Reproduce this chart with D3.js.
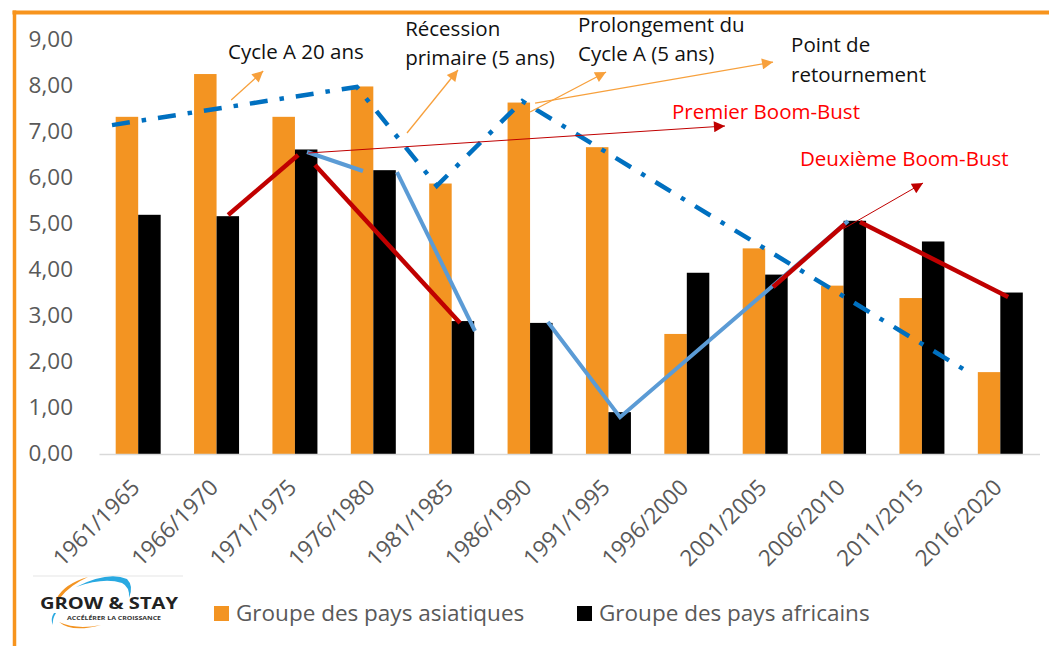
<!DOCTYPE html>
<html>
<head>
<meta charset="utf-8">
<script src="https://cdn.jsdelivr.net/npm/d3@7"></script>
<style>
  html, body { margin: 0; padding: 0; background: #fff; }
  svg { display: block; }
  text { font-family: "Open Sans", "Noto Sans", sans-serif; }
</style>
</head>
<body>
<svg id="chart" width="1049" height="646"></svg>
<script>
// ---------------- data ----------------
const categories = ["1961/1965","1966/1970","1971/1975","1976/1980","1981/1985","1986/1990",
                    "1991/1995","1996/2000","2001/2005","2006/2010","2011/2015","2016/2020"];
const asiaValues   = [7.33, 8.26, 7.33, 7.99, 5.88, 7.64, 6.67, 2.61, 4.47, 3.66, 3.39, 1.78];
const africaValues = [5.20, 5.17, 6.62, 6.17, 2.89, 2.85, 0.91, 3.94, 3.90, 5.07, 4.62, 3.51];
const seriesNames  = ["Groupe des pays asiatiques", "Groupe des pays africains"];
const yTicks       = [0, 1, 2, 3, 4, 5, 6, 7, 8, 9];

// annotation shapes, in data coordinates: [category index, value]
const cycleLine = [[-0.334, 7.15], [2.79, 7.98], [3.81, 5.83], [4.90, 7.67], [10.65, 1.72]];
const trendSegments = [
  [[2.154, 6.565], [2.868, 6.152]],
  [[3.302, 6.13], [4.297, 2.674]],
  [[5.227, 2.87], [6.148, 0.80], [9.058, 5.065]]
];
const boomBustSegments = [
  [[1.148, 5.196], [2.041, 6.50]],
  [[2.256, 6.283], [4.107, 2.848]],
  [[8.10, 3.63], [9.017, 5.00]],
  [[9.209, 5.043], [11.10, 3.413]]
];
const redArrows = [
  [[2.168, 6.543], [7.487, 7.13]],
  [[8.993, 4.891], [10.014, 5.891]]
];
const orangeArrows = [
  [[1.187, 7.696], [1.595, 8.326]],
  [[3.43, 6.978], [4.08, 8.348]],
  [[5.00, 7.435], [5.97, 8.304]],
  [[5.064, 7.63], [8.10, 8.52]]
];
const noteTexts = [
  {lines: ["Cycle A 20 ans"], at: [1.146, 8.587], kind: "black"},
  {lines: ["Récession", "primaire (5 ans)"], at: [3.406, 9.087], kind: "black"},
  {lines: ["Prolongement du", "Cycle A (5 ans)"], at: [5.612, 9.174], kind: "black"},
  {lines: ["Point de", "retournement"], at: [8.33, 8.739], kind: "black"},
  {lines: ["Premier Boom-Bust"], at: [6.811, 7.283], kind: "red"},
  {lines: ["Deuxième Boom-Bust"], at: [8.444, 6.261], kind: "red"}
];
const logoTitle = "GROW & STAY";
const logoTagline = "ACCÉLÉRER LA CROISSANCE";

// ---------------- drawing ----------------
const svg = d3.select("#chart");
const ORANGE = "#F39422", BLACK = "#000000", GRAY = "#595959";

const plotLeft = 99, plotRight = 1039.5, plotTop = 40, plotBottom = 454;

const x0 = d3.scaleBand().domain(categories).range([plotLeft, plotRight])
  .paddingInner(0.426).paddingOuter(0.213);
const x1 = d3.scaleBand().domain([0, 1]).range([0, x0.bandwidth()]);
const y = d3.scaleLinear().domain([0, 9]).range([plotBottom, plotTop]);
const xi = d3.scaleLinear().domain([-0.5, categories.length - 0.5]).range([plotLeft, plotRight]);

// frame
svg.append("line").attr("x1", 12.5).attr("x2", 1049).attr("y1", 12.5).attr("y2", 12.5)
  .attr("stroke", "#F7941D").attr("stroke-width", 4);
svg.append("line").attr("x1", 14.5).attr("x2", 14.5).attr("y1", 10.5).attr("y2", 646)
  .attr("stroke", "#F7941D").attr("stroke-width", 3.5);

// y axis labels
const yAxis = d3.axisLeft(y).tickValues(yTicks).tickSize(0).tickPadding(0)
  .tickFormat(d => d3.format(".2f")(d).replace(".", ","));
const gy = svg.append("g").attr("transform", "translate(73,0)").call(yAxis);
gy.select(".domain").remove();
gy.selectAll("text").attr("fill", GRAY).attr("font-size", 22.5)
  .attr("font-family", "Open Sans").attr("dy", "0.3em");

// bars
const groups = svg.append("g").selectAll("g").data(categories).join("g")
  .attr("transform", d => `translate(${x0(d)},0)`);
groups.selectAll("rect")
  .data((d, i) => [asiaValues[i], africaValues[i]])
  .join("rect")
  .attr("x", (d, j) => x1(j))
  .attr("width", x1.bandwidth())
  .attr("y", d => y(d))
  .attr("height", d => y(0) - y(d))
  .attr("fill", (d, j) => j === 0 ? ORANGE : BLACK);

// x axis
const xAxis = d3.axisBottom(x0).tickSize(0).tickPadding(0);
const gx = svg.append("g").attr("transform", `translate(0,${plotBottom})`).call(xAxis);
gx.select(".domain").attr("stroke", "#D9D9D9").attr("stroke-width", 1.5);
gx.selectAll("text").attr("fill", GRAY).attr("font-size", 22.5).attr("font-family", "Open Sans")
  .attr("text-anchor", "end").attr("dy", 0).attr("y", 0)
  .attr("transform", "translate(3,35) rotate(-45)");

// markers
const defs = svg.append("defs");
function marker(id, color) {
  defs.append("marker").attr("id", id).attr("viewBox", "0 0 10 10")
    .attr("refX", 10).attr("refY", 5).attr("markerUnits", "userSpaceOnUse")
    .attr("markerWidth", 13).attr("markerHeight", 11).attr("orient", "auto")
    .append("path").attr("d", "M0,0 L10,5 L0,10 Z").attr("fill", color);
}
marker("arrRed", "#C00000");
marker("arrOrange", "#F7A03C");

const line = d3.line().x(d => xi(d[0])).y(d => y(d[1]));

// light blue trend
svg.append("g").selectAll("path").data(trendSegments).join("path")
  .attr("d", line).attr("fill", "none").attr("stroke", "#5B9BD5").attr("stroke-width", 4);

// red boom-bust
svg.append("g").selectAll("path").data(boomBustSegments).join("path")
  .attr("d", line).attr("fill", "none").attr("stroke", "#C00000").attr("stroke-width", 4.5);

// cycle dash-dot
svg.append("path").datum(cycleLine).attr("d", line).attr("fill", "none")
  .attr("stroke", "#0070C0").attr("stroke-width", 4.5)
  .attr("stroke-dasharray", "18 12 4.5 12");

// arrows
svg.append("g").selectAll("path").data(redArrows).join("path")
  .attr("d", line).attr("fill", "none").attr("stroke", "#C00000").attr("stroke-width", 1)
  .attr("marker-end", "url(#arrRed)");
svg.append("g").selectAll("path").data(orangeArrows).join("path")
  .attr("d", line).attr("fill", "none").attr("stroke", "#F7A03C").attr("stroke-width", 1.3)
  .attr("marker-end", "url(#arrOrange)");

// notes
const notes = svg.append("g").selectAll("text").data(noteTexts).join("text")
  .attr("x", d => xi(d.at[0])).attr("y", d => y(d.at[1]))
  .attr("font-size", 20.5)
  .attr("fill", d => d.kind === "red" ? "#FF0000" : "#111");
notes.selectAll("tspan").data(d => d.lines.map(l => ({l, x: xi(d.at[0])}))).join("tspan")
  .attr("x", d => d.x).attr("dy", (d, i) => i === 0 ? 0 : 29.5).text(d => d.l);

// legend
const legend = svg.append("g");
const legendX = [214, 577];
seriesNames.forEach((name, i) => {
  legend.append("rect").attr("x", legendX[i]).attr("y", 606).attr("width", 15).attr("height", 15)
    .attr("fill", i === 0 ? ORANGE : BLACK);
  legend.append("text").attr("x", legendX[i] + 22).attr("y", 621).attr("font-size", 22.5)
    .attr("fill", GRAY).text(name);
});

// logo
const logo = svg.append("g");
logo.append("line").attr("x1", 33).attr("x2", 183).attr("y1", 576).attr("y2", 576)
  .attr("stroke", "#EEEEEE").attr("stroke-width", 1.5);
logo.append("path").attr("d", "M57,598 Q64,584 88,577 Q70,585 60,598 Z").attr("fill", "#F39422");
logo.append("path").attr("d", "M76,587 Q108,571 127,579 Q134,586 129,598 Q130,587 122,583 Q104,577 76,587 Z")
  .attr("fill", "#29A9E1");
logo.append("path").attr("d", "M54,613 Q50,619 53,625 Q52,619 56,613 Z").attr("fill", "#29A9E1");
logo.append("path").attr("d", "M59,622 Q72,633 101,625 Q76,630 59,622 Z").attr("fill", "#F39422");
logo.append("text").attr("x", 40).attr("y", 609).attr("font-family", "DejaVu Sans")
  .attr("font-weight", "bold").attr("font-size", 15.5).attr("fill", "#222")
  .attr("textLength", 138).attr("lengthAdjust", "spacingAndGlyphs").text(logoTitle);
logo.append("text").attr("x", 67).attr("y", 620).attr("font-family", "DejaVu Serif")
  .attr("font-weight", "bold").attr("font-size", 5.5).attr("fill", "#333")
  .attr("textLength", 94).attr("lengthAdjust", "spacingAndGlyphs").text(logoTagline);
</script>
</body>
</html>
